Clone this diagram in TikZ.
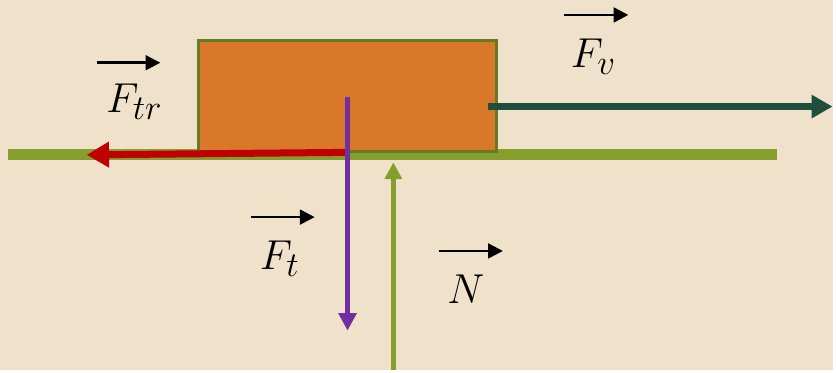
\documentclass[tikz,border=0pt]{standalone}
\usepackage{xcolor}
\usepackage{tikz}
\usetikzlibrary{arrows.meta}
\definecolor{paper}{RGB}{240,226,202}
\definecolor{olive}{RGB}{134,158,44}
\definecolor{oliveedge}{RGB}{104,122,38}
\definecolor{crate}{RGB}{217,120,40}
\definecolor{frcol}{RGB}{192,0,0}
\definecolor{pullcol}{RGB}{31,78,61}
\definecolor{wtcol}{RGB}{112,48,160}
\tikzset{
  groundline/.style={olive,line width=7.8pt},
  blockbox/.style={draw=oliveedge,fill=crate,line width=2pt,minimum width=7.475cm,minimum height=2.775cm,inner sep=0pt},
  fr/.style={frcol,line width=5pt,-{Triangle[length=16pt,width=17.5pt]}},
  pull/.style={pullcol,line width=5pt,-{Triangle[length=15pt,width=16pt]}},
  wt/.style={wtcol,line width=3.5pt,-{Triangle[length=12.5pt,width=12.5pt]}},
  nrm/.style={olive,line width=3.5pt,-{Triangle[length=12pt,width=12pt]}},
  vec/.style={black,line width=1.8pt,-{Triangle[length=10.5pt,width=10.5pt]}},
  lbl/.style={inner sep=0pt,font=\Huge,scale=1.2}
}
\newcommand{\fv}[1]{$F_{#1}$}

\begin{document}
\begin{tikzpicture}[x=0.025cm,y=-0.025cm]
\fill[paper] (0,0) rectangle (836,372);
\coordinate (gL) at (8,155); \coordinate (gR) at (780,155);
\draw[groundline] (gL) -- (gR);
\node[blockbox] (block) at (349,96.5) {};
\coordinate (trS) at (348,153); \coordinate (trE) at (87,155.5);
\draw[fr] (trS) -- (trE);
\coordinate (vS) at (490,107); \coordinate (vE) at (836,107);
\draw[pull] (vS) -- (vE);
\coordinate (tS) at (349,97); \coordinate (tE) at (349,332);
\draw[wt] (tS) -- (tE);
\coordinate (nS) at (395,372); \coordinate (nE) at (395,163);
\draw[nrm] (nS) -- (nE);
% labels with their vector arrows
\node[lbl] (Ftr) at (135,102) {\fv{tr}};
\coordinate (aTr1) at (97,63); \coordinate (aTr2) at (161,63); \draw[vec] (aTr1) -- (aTr2);
\node[lbl] (Fv) at (596,57) {\fv{v}};
\coordinate (aV1) at (566,15); \coordinate (aV2) at (631,15); \draw[vec] (aV1) -- (aV2);
\node[lbl] (Ft) at (281,260) {\fv{t}};
\coordinate (aT1) at (252,218); \coordinate (aT2) at (316,218); \draw[vec] (aT1) -- (aT2);
\node[lbl] (N) at (468,290) {$N$};
\coordinate (aN1) at (441,252); \coordinate (aN2) at (505,252); \draw[vec] (aN1) -- (aN2);
\end{tikzpicture}
\end{document}
